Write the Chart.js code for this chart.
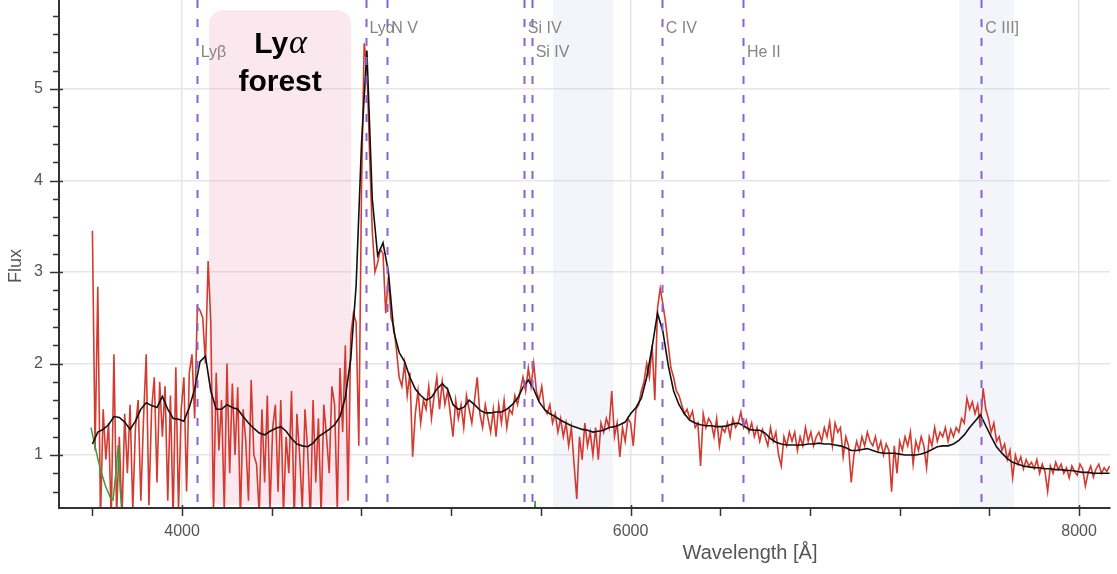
<!DOCTYPE html>
<html>
<head>
<meta charset="utf-8">
<title>Quasar spectrum</title>
<script src="https://cdn.jsdelivr.net/npm/chart.js@4.4.1/dist/chart.umd.min.js"></script>
<style>
  html, body { margin: 0; padding: 0; background: #fff; }
  #spectrum { display: block; }
</style>
</head>
<body>
<canvas id="spectrum" width="1117" height="574"></canvas>
<script>
// observed flux, one sample every 12 Å starting at 3600 Å
const fluxStart = 3600;
const fluxStep = 12;
const flux = [
  3.45, 1.05, 2.84, 0.30, 1.50, 0.95, 1.35, 0.30, 2.10, 0.35,
  1.20, 0.30, 1.45, 0.80, 1.55, 0.40, 1.30, 1.60, 0.50, 1.40,
  2.10, 0.45, 1.50, 1.85, 0.70, 1.80, 1.20, 1.75, 0.50, 1.65,
  0.30, 1.96, 0.40, 1.50, 1.85, 0.60, 1.90, 2.10, 1.40, 2.62,
  2.58, 2.50, 2.00, 3.12, 2.45, 0.35, 1.90, 1.05, 1.60, 0.40,
  2.00, 0.80, 1.78, 1.00, 1.74, 0.30, 1.50, 1.15, 0.50, 1.82,
  1.00, 0.90, 0.35, 1.50, 0.70, 1.65, 0.40, 1.30, 1.55, 0.60,
  1.60, 0.35, 1.20, 0.80, 1.70, 0.30, 1.45, 1.00, 0.40, 1.50,
  1.05, 0.30, 1.60, 0.70, 1.40, 0.35, 1.55, 1.20, 0.80, 1.75,
  1.55, 0.40, 1.95, 1.25, 2.20, 0.50, 2.30, 2.55, 2.45, 1.10,
  3.90, 5.50, 5.25, 4.30, 3.45, 3.00, 3.10, 3.25, 3.20, 2.55,
  2.95, 2.50, 2.40, 2.15, 1.85, 1.75, 2.00, 1.65, 1.90, 0.98,
  1.45, 1.70, 1.35, 1.60, 1.50, 1.75, 1.40, 1.65, 1.85, 1.50,
  1.80, 1.55, 1.70, 1.45, 1.20, 1.60, 1.40, 1.55, 1.30, 1.65,
  1.50, 1.35, 1.60, 1.85, 1.45, 1.30, 1.55, 1.40, 1.25, 1.50,
  1.20, 1.55, 1.35, 1.60, 1.30, 1.50, 1.45, 1.65, 1.55, 1.70,
  1.85, 1.70, 1.95, 1.75, 2.00, 1.70, 1.60, 1.75, 1.50, 1.45,
  1.55, 1.35, 1.45, 1.25, 1.40, 1.20, 1.35, 1.10, 1.30, 0.90,
  0.52, 1.20, 0.95, 1.35, 1.10, 1.25, 1.00, 1.30, 0.95, 1.35,
  1.25, 1.40, 1.30, 1.70, 1.20, 1.35, 0.98, 1.30, 1.15, 1.40,
  1.35, 1.10, 1.50, 1.55, 1.70, 1.80, 2.00, 1.85, 2.20, 1.60,
  2.60, 2.82, 2.65, 2.45, 2.20, 1.95, 1.85, 1.70, 1.65, 1.55,
  1.45, 1.50, 1.40, 1.48, 1.30, 1.35, 0.88, 1.45, 1.30, 1.40,
  1.35, 1.20, 1.40, 1.10, 1.30, 1.25, 1.35, 1.20, 1.40, 1.30,
  1.35, 1.47, 1.30, 1.38, 1.25, 1.35, 1.20, 1.30, 1.15, 1.28,
  1.20, 1.10, 1.30, 1.15, 1.25, 1.00, 0.88, 1.20, 1.10, 1.25,
  1.15, 1.25, 1.05, 1.20, 1.10, 1.30, 1.15, 1.25, 1.10, 1.20,
  1.25, 1.15, 1.30, 1.20, 1.36, 1.10, 1.35, 1.25, 1.30, 0.98,
  1.20, 1.10, 0.70, 1.00, 1.15, 1.05, 1.20, 1.10, 1.25, 1.15,
  1.10, 1.20, 1.05, 1.15, 1.00, 1.12, 1.05, 0.60, 1.10, 0.80,
  1.15, 1.05, 1.20, 1.10, 1.25, 0.90, 1.15, 1.05, 1.20, 1.10,
  0.86, 1.20, 1.10, 1.30, 1.15, 1.25, 1.20, 1.30, 1.15, 1.28,
  1.20, 1.30, 1.25, 1.40, 1.35, 1.62, 1.50, 1.58, 1.45, 1.55,
  1.30, 1.73, 1.50, 1.40, 1.25, 1.35, 1.15, 1.20, 1.05, 1.12,
  0.95, 1.05, 0.75, 1.00, 0.90, 0.98, 0.85, 0.95, 0.88, 0.92,
  0.85, 0.95, 0.80, 0.90, 0.82, 0.60, 0.88, 0.80, 0.92, 0.84,
  0.90, 0.80, 0.86, 0.75, 0.88, 0.82, 0.78, 0.90, 0.85, 0.66,
  0.80, 0.88, 0.76, 0.85, 0.90, 0.80, 0.86, 0.82, 0.88
];

// smoothed model, one sample every 24 Å starting at 3600 Å
const modelStart = 3600;
const modelStep = 24;
const model = [
  1.12, 1.25, 1.28, 1.33, 1.42, 1.41, 1.36, 1.28, 1.37, 1.50,
  1.57, 1.54, 1.52, 1.64, 1.50, 1.40, 1.39, 1.37, 1.52, 1.72,
  2.02, 2.08, 1.70, 1.50, 1.50, 1.55, 1.52, 1.50, 1.42, 1.35,
  1.29, 1.24, 1.22, 1.26, 1.29, 1.31, 1.26, 1.18, 1.12, 1.10,
  1.09, 1.13, 1.20, 1.24, 1.28, 1.33, 1.42, 1.63, 2.05, 2.85,
  4.40, 5.42, 3.80, 3.18, 3.32, 3.00, 2.35, 2.12, 2.02, 1.85,
  1.72, 1.65, 1.60, 1.63, 1.72, 1.78, 1.72, 1.55, 1.50, 1.52,
  1.60, 1.55, 1.49, 1.46, 1.46, 1.47, 1.47, 1.50, 1.55, 1.62,
  1.74, 1.82, 1.72, 1.58, 1.50, 1.45, 1.42, 1.38, 1.35, 1.32,
  1.30, 1.28, 1.27, 1.25, 1.26, 1.27, 1.30, 1.31, 1.33, 1.36,
  1.45, 1.52, 1.62, 1.85, 2.18, 2.55, 2.35, 1.98, 1.70, 1.55,
  1.45, 1.38, 1.35, 1.33, 1.32, 1.32, 1.31, 1.31, 1.32, 1.34,
  1.35, 1.32, 1.28, 1.27, 1.27, 1.24, 1.18, 1.14, 1.12, 1.11,
  1.11, 1.11, 1.11, 1.12, 1.12, 1.13, 1.12, 1.12, 1.11, 1.10,
  1.08, 1.05, 1.05, 1.06, 1.07, 1.05, 1.03, 1.02, 1.02, 1.02,
  1.01, 1.00, 1.00, 1.00, 1.01, 1.03, 1.06, 1.09, 1.10, 1.10,
  1.12, 1.16, 1.22, 1.30, 1.37, 1.44, 1.32, 1.20, 1.09, 1.02,
  0.96, 0.92, 0.90, 0.88, 0.87, 0.86, 0.86, 0.85, 0.85, 0.84,
  0.84, 0.83, 0.83, 0.82, 0.81, 0.81, 0.80, 0.80, 0.80, 0.80
];

// noise estimate (mostly below the visible range)
const noiseWave = [3594, 3612, 3634, 3657, 3679, 3692, 3706, 3715, 3724, 3735, 3760, 5568, 5574, 5580, 8136];
const noiseFlux = [1.30, 1.09, 0.86, 0.67, 0.54, 0.51, 0.84, 1.11, 0.62, 0.30, 0.20, 0.20, 0.50, 0.20, 0.20];

// emission lines at the quasar redshift
const lineNames = ['Lyβ', 'Lyα', 'N V', 'Si IV', 'Si IV', 'C IV', 'He II', 'C III]'];
const lineWaves = [4065, 4818, 4915, 5524, 5559, 6139, 6501, 7564];
const lineRows = [1, 0, 0, 0, 1, 0, 1, 0];

// shaded regions
const forestWave = [4120, 4754];
const forestFlux = [0.45, 5.86];
const bandWaves = [[5654, 5922], [7465, 7710]];

const xTicks = [3600, 4000, 4400, 4800, 5200, 5600, 6000, 6400, 6800, 7200, 7600, 8000];
const xTickLabels = [4000, 6000, 8000];
const yTickLabels = [1, 2, 3, 4, 5];

const fluxPoints = flux.map((v, i) => ({ x: fluxStart + i * fluxStep, y: v }));
const modelPoints = model.map((v, i) => ({ x: modelStart + i * modelStep, y: v }));
const noisePoints = noiseWave.map((w, i) => ({ x: w, y: noiseFlux[i] }));

const FONT = '"Liberation Sans", Arial, Helvetica, sans-serif';
const AXIS = '#333';
const isWhole = (v) => Math.abs(v - Math.round(v)) < 1e-6;

const decor = {
  id: 'spectrumDecor',
  beforeDatasetsDraw(chart) {
    const { ctx, chartArea: area, scales: { x, y } } = chart;
    ctx.save();
    ctx.fillStyle = 'rgba(200, 200, 235, 0.2)';
    bandWaves.forEach(([a, b]) => {
      const x0 = x.getPixelForValue(a);
      const x1 = x.getPixelForValue(b);
      ctx.fillRect(x0, area.top, x1 - x0, area.bottom - area.top);
    });
    const fx0 = x.getPixelForValue(forestWave[0]);
    const fx1 = x.getPixelForValue(forestWave[1]);
    const fy0 = y.getPixelForValue(forestFlux[1]);
    const fy1 = y.getPixelForValue(forestFlux[0]);
    ctx.fillStyle = 'rgba(236, 150, 180, 0.22)';
    ctx.beginPath();
    ctx.roundRect(fx0, fy0, fx1 - fx0, fy1 - fy0, 14);
    ctx.fill();
    ctx.restore();
  },
  afterDatasetsDraw(chart) {
    const { ctx, chartArea: area, scales: { x } } = chart;
    ctx.save();
    // dashed line markers
    ctx.strokeStyle = '#8a63d2';
    ctx.lineWidth = 2;
    ctx.setLineDash([8, 11]);
    lineWaves.forEach((w) => {
      const px = Math.round(x.getPixelForValue(w)) + 0.5;
      ctx.beginPath();
      ctx.moveTo(px, area.top);
      ctx.lineTo(px, area.bottom);
      ctx.stroke();
    });
    ctx.setLineDash([]);

    ctx.fillStyle = '#858585';
    ctx.font = '16px ' + FONT;
    ctx.textAlign = 'left';
    ctx.textBaseline = 'middle';
    lineNames.forEach((name, i) => {
      const px = x.getPixelForValue(lineWaves[i]) + 4;
      ctx.fillText(name, px, area.top + (lineRows[i] ? 53 : 29));
    });

    // forest label
    const cx = (x.getPixelForValue(forestWave[0]) + x.getPixelForValue(forestWave[1])) / 2;
    ctx.fillStyle = '#000';
    const boldFont = 'bold 30px ' + FONT;
    const greekFont = 'italic 34px "Liberation Serif", "DejaVu Serif", serif';
    ctx.font = boldFont;
    const lyW = ctx.measureText('Ly').width;
    ctx.font = greekFont;
    const alphaW = ctx.measureText('α').width;
    const start = cx - (lyW + alphaW) / 2;
    ctx.textBaseline = 'alphabetic';
    ctx.font = boldFont;
    ctx.fillText('Ly', start, area.top + 53);
    ctx.font = greekFont;
    ctx.fillText('α', start + lyW + 1, area.top + 53);
    ctx.font = boldFont;
    ctx.textAlign = 'center';
    ctx.fillText('forest', cx, area.top + 91);
    ctx.restore();
  },
  afterDraw(chart) {
    const { ctx, chartArea: area, scales: { x, y } } = chart;
    ctx.save();
    ctx.strokeStyle = AXIS;
    ctx.lineWidth = 1.5;
    x.ticks.forEach((t) => {
      const px = Math.round(x.getPixelForValue(t.value)) + 0.5;
      const major = xTickLabels.includes(t.value);
      ctx.beginPath();
      ctx.moveTo(px, area.bottom - (major ? 3 : 0));
      ctx.lineTo(px, area.bottom + 8);
      ctx.stroke();
    });
    y.ticks.forEach((t) => {
      const py = Math.round(y.getPixelForValue(t.value)) + 0.5;
      const major = isWhole(t.value);
      ctx.beginPath();
      ctx.moveTo(area.left - (major ? 9 : 6), py);
      ctx.lineTo(area.left + (major ? 4 : 0), py);
      ctx.stroke();
    });

    ctx.fillStyle = '#555';
    ctx.textAlign = 'center';
    ctx.textBaseline = 'middle';
    ctx.font = '20px ' + FONT;
    ctx.fillText('Wavelength [Å]', 750, 553);
    ctx.translate(16, 266);
    ctx.rotate(-Math.PI / 2);
    ctx.font = '18px ' + FONT;
    ctx.fillText('Flux', 0, 0);
    ctx.restore();
  }
};

new Chart(document.getElementById('spectrum'), {
  type: 'line',
  data: {
    datasets: [
      { label: 'model', data: modelPoints, borderColor: '#111', borderWidth: 1.6, order: 0 },
      { label: 'noise', data: noisePoints, borderColor: '#3d9a3d', borderWidth: 1.5, order: 1 },
      { label: 'flux', data: fluxPoints, borderColor: 'rgb(211, 59, 48)', borderWidth: 1.6, order: 2 }
    ]
  },
  options: {
    responsive: false,
    animation: false,
    devicePixelRatio: 1,
    elements: { point: { radius: 0 }, line: { tension: 0 } },
    layout: { padding: { left: 0, right: 7, top: 0, bottom: 0 } },
    plugins: { legend: { display: false }, tooltip: { enabled: false } },
    scales: {
      x: {
        type: 'linear',
        min: 3451,
        max: 8138,
        afterBuildTicks: (s) => { s.ticks = xTicks.map((v) => ({ value: v })); },
        grid: {
          drawTicks: false,
          lineWidth: 1.5,
          color: (c) => (c.tick && xTickLabels.includes(c.tick.value) ? '#e6e6e6' : 'rgba(0,0,0,0)')
        },
        border: { color: AXIS, width: 2, z: 1 },
        ticks: {
          autoSkip: false,
          maxRotation: 0,
          padding: 14,
          color: '#555',
          font: { family: FONT, size: 16 },
          callback: (v) => (xTickLabels.includes(v) ? String(v) : '')
        },
        afterFit: (s) => { s.height = 66; s.paddingLeft = 0; s.paddingRight = 0; }
      },
      y: {
        type: 'linear',
        min: 0.4208,
        max: 5.973,
        grid: {
          drawTicks: false,
          lineWidth: 1.5,
          color: (c) => (c.tick && isWhole(c.tick.value) ? '#e6e6e6' : 'rgba(0,0,0,0)')
        },
        border: { color: AXIS, width: 2, z: 1 },
        ticks: {
          stepSize: 0.2,
          includeBounds: false,
          autoSkip: false,
          padding: 16,
          color: '#555',
          font: { family: FONT, size: 16 },
          callback: (v) => (isWhole(v) && yTickLabels.includes(Math.round(v)) ? String(Math.round(v)) : '')
        },
        afterFit: (s) => { s.width = 59; s.paddingTop = 0; s.paddingBottom = 0; }
      }
    }
  },
  plugins: [decor]
});
</script>
</body>
</html>
